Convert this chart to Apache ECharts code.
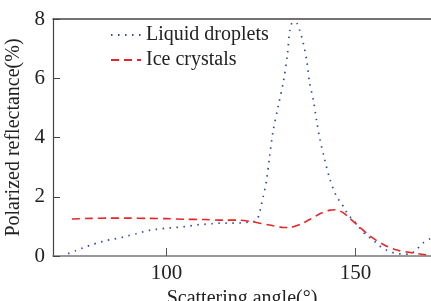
<!DOCTYPE html>
<html lang="en">
<head>
    <meta charset="UTF-8">
    <title>Polarized reflectance</title>
    <style>
        html, body { margin: 0; padding: 0; background: #fff; }
        .mychart { width: 431px; height: 301px; }
    </style>
</head>
<body>
    <div class="mychart"></div>
</body>
<script src="https://cdn.jsdelivr.net/npm/echarts@6/dist/echarts.min.js"></script>
<script>
    // data: [scattering angle, reflectance %]
    const liquidDroplets = [
        [74, 0.08], [76, 0.18], [78, 0.28], [80, 0.37], [82, 0.45], [84, 0.52],
        [86, 0.57], [88, 0.62], [90, 0.69], [92, 0.75], [94, 0.82], [96, 0.88],
        [98, 0.91], [100, 0.94], [102, 0.96], [104, 0.98], [106, 1.01], [108, 1.05],
        [110, 1.07], [112, 1.09], [114, 1.11], [116, 1.11], [118, 1.11], [120, 1.12],
        [122, 1.15], [123.8, 1.19], [124.5, 1.4], [125, 1.65], [125.6, 2.0], [126.4, 2.48],
        [127.3, 3.35], [128.2, 4.2], [129.6, 5.07], [131, 5.92], [132, 6.79], [132.7, 7.66],
        [133.5, 7.9], [134.5, 7.86], [135.3, 7.6], [136.2, 7.19], [137.2, 6.54], [137.8, 5.9],
        [138.9, 5.25], [139.7, 4.59], [140.6, 3.95], [141.8, 3.3], [143.1, 2.66], [145, 2.0],
        [146.3, 1.78], [147.3, 1.55], [148.4, 1.35], [150, 1.13], [151.3, 0.92], [152.8, 0.71],
        [154.7, 0.54], [156.3, 0.35], [158.2, 0.2], [160.3, 0.1], [162, 0.07], [164.2, 0.06],
        [166.1, 0.21], [168, 0.45], [170, 0.6]
    ]
    const iceCrystals = [
        [75, 1.25], [80, 1.27], [85, 1.28], [90, 1.28], [95, 1.27], [100, 1.26],
        [105, 1.24], [110, 1.23], [115, 1.21], [119, 1.21], [122, 1.17], [125, 1.1],
        [128, 1.03], [131, 0.96], [133, 0.97], [135.5, 1.07], [138, 1.24], [141, 1.45],
        [143, 1.54], [144.8, 1.56], [146.5, 1.48], [148, 1.33], [151, 0.99], [154, 0.66],
        [157.5, 0.38], [161, 0.2], [164, 0.13], [167.5, 0.06], [170, 0.03]
    ]
    const seriesNames = ['Liquid droplets', 'Ice crystals']
    const xTicks = [100, 150]
    const yTicks = [0, 2, 4, 6, 8]

    const font = 'Liberation Serif'
    const myChart = echarts.init(document.querySelector('.mychart'))

    const config = {
        animation: false,
        grid: { left: 53, top: 19, right: 0, bottom: 45, outerBoundsMode: 'none' },
        legend: {
            orient: 'vertical',
            left: 110,
            top: 25,
            padding: 0,
            itemWidth: 30,
            itemHeight: 12,
            itemGap: 5,
            itemStyle: { opacity: 0 },
            textStyle: { fontFamily: font, fontSize: 20, color: '#222' },
            data: seriesNames
        },
        xAxis: [{
            type: 'value',
            min: 70,
            max: 170,
            name: 'Scattering angle(°)',
            nameLocation: 'middle',
            nameGap: 25,
            nameTextStyle: { fontFamily: font, fontSize: 20, color: '#222' },
            axisLine: { lineStyle: { color: '#777', width: 1.5 } },
            axisTick: { inside: true, length: 8, customValues: xTicks, lineStyle: { color: '#555' } },
            axisLabel: { customValues: xTicks, fontFamily: font, fontSize: 21, color: '#222', margin: 7 },
            splitLine: { show: false }
        }, {
            type: 'value',
            position: 'top',
            min: 70,
            max: 170,
            axisLine: { show: true, lineStyle: { color: '#444', width: 1.5 } },
            axisTick: { show: false },
            axisLabel: { show: false },
            splitLine: { show: false }
        }],
        yAxis: {
            type: 'value',
            min: 0,
            max: 8,
            name: 'Polarized reflectance(%)',
            nameLocation: 'middle',
            nameGap: 26,
            nameTextStyle: { fontFamily: font, fontSize: 20, color: '#222' },
            axisLine: { show: true, lineStyle: { color: '#444', width: 1.2 } },
            axisTick: { inside: true, length: 7, customValues: yTicks, lineStyle: { color: '#444' } },
            axisLabel: { customValues: yTicks, fontFamily: font, fontSize: 21, color: '#222', margin: 8 },
            splitLine: { show: false }
        },
        series: [{
            type: 'line',
            name: seriesNames[0],
            data: liquidDroplets,
            symbol: 'none',
            smooth: 0.3,
            lineStyle: { color: '#2c4aa8', width: 1.7, type: [1.5, 5.5] },
            itemStyle: { color: '#2c4aa8' }
        }, {
            type: 'line',
            name: seriesNames[1],
            data: iceCrystals,
            symbol: 'none',
            smooth: 0.3,
            lineStyle: { color: '#e8262a', width: 1.6, type: [8, 5] },
            itemStyle: { color: '#e8262a' }
        }]
    }
    myChart.setOption(config)
</script>
</html>
